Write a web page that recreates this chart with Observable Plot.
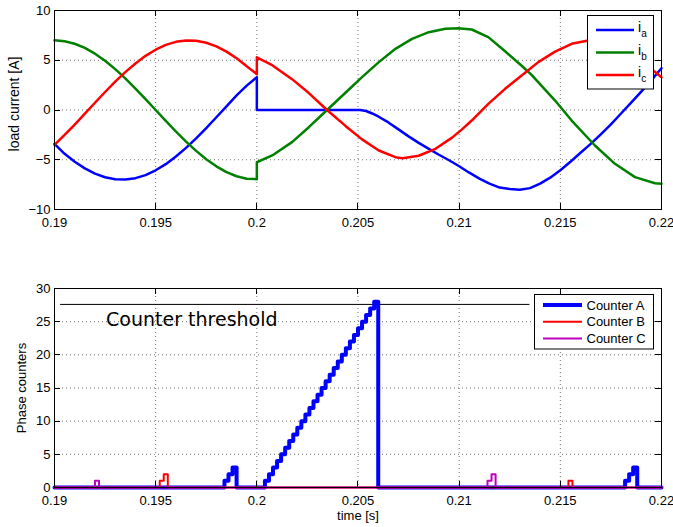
<!DOCTYPE html>
<html><head><meta charset="utf-8">
<script src="https://cdn.jsdelivr.net/npm/d3@7"></script>
<script src="https://cdn.jsdelivr.net/npm/@observablehq/plot@0.6"></script>
<style>
body{margin:0;background:#fff;}
#chart{width:673px;height:527px;position:relative;background:#fff;}
#chart svg{display:block;}
</style></head><body><div id="chart"></div>
<script>
// ---------- data ----------
const xTicks = [0.19, 0.195, 0.2, 0.205, 0.21, 0.215, 0.22];
const currentTicks = [-10, -5, 0, 5, 10];
const counterTicks = [0, 5, 10, 15, 20, 25, 30];

const currentNames = ["a", "b", "c"];
const counterNames = ["Counter A", "Counter B", "Counter C"];

// phase a current
const tA = [0.19,0.1905,0.191,0.1915,0.192,0.1925,0.193,0.1935,0.194,0.1945,0.195,0.1955,0.196,0.1965,0.197,0.1975,0.198,0.1985,0.199,0.1995,0.2,
  0.2,0.2051,0.2054,0.2057,
  0.206,0.2065,0.207,0.2075,0.208,0.2085,0.209,0.2095,0.21,0.2105,0.211,0.2115,0.212,0.2125,0.213,0.2135,0.214,0.2145,0.215,0.2155,0.216,0.2165,0.217,0.2175,0.218,0.2185,0.219,0.2195,0.22];
const iA = [-3.4,-4.4,-5.2,-5.87,-6.39,-6.76,-6.96,-6.99,-6.85,-6.54,-6.06,-5.44,-4.68,-3.81,-2.85,-1.81,-0.73,0.37,1.46,2.45,3.3,
  0,0,-0.1,-0.35,
  -0.65,-1.25,-1.95,-2.65,-3.3,-3.9,-4.5,-5.05,-5.65,-6.3,-6.9,-7.4,-7.8,-7.95,-8.02,-7.85,-7.4,-6.8,-6.05,-5.2,-4.3,-3.4,-2.45,-1.45,-0.35,0.75,1.85,3.0,4.2];

// phase b current
const tB = [0.19,0.1905,0.191,0.1915,0.192,0.1925,0.193,0.1935,0.194,0.1945,0.195,0.1955,0.196,0.1965,0.197,0.1975,0.198,0.1985,0.199,0.1995,0.2,
  0.2,0.20076,0.20174,0.20257,0.20347,0.20438,0.2052,0.20603,0.20685,0.20767,0.2085,0.20932,0.20996,0.21062,0.21144,0.21227,0.21309,0.21359,0.21474,0.21556,0.21671,0.2177,0.21869,0.21968,0.22];
const iB = [7,6.91,6.66,6.24,5.66,4.95,4.11,3.18,2.16,1.1,0,-1.1,-2.16,-3.18,-4.11,-4.95,-5.66,-6.24,-6.66,-6.91,-6.95,
  -5.25,-4.57,-3.23,-1.73,0,1.73,3.3,4.81,6.15,7.15,7.82,8.16,8.22,8.09,7.32,5.9,4.45,3.5,0.95,-1.06,-3.57,-5.41,-6.75,-7.36,-7.42];

// phase c current
const tC = [0.19,0.1905,0.191,0.1915,0.192,0.1925,0.193,0.1935,0.194,0.1945,0.195,0.1955,0.196,0.1965,0.197,0.1975,0.198,0.1985,0.199,0.1995,0.2,
  0.2,0.20076,0.20174,0.20257,0.20347,0.20438,0.2052,0.20603,0.20685,0.2072,0.208,0.20883,0.20965,0.21014,0.21062,0.21144,0.21227,0.21309,0.21391,0.21474,0.21556,0.21638,0.2168,0.2173,0.2178,0.2183,0.2188,0.2193,0.2197,0.22];
const iC = [-3.5,-2.51,-1.46,-0.37,0.73,1.81,2.85,3.81,4.68,5.44,6.06,6.54,6.85,6.99,6.96,6.76,6.39,5.87,5.2,4.4,3.6,
  5.3,4.5,3.1,1.7,0,-1.6,-2.95,-4.07,-4.74,-4.84,-4.6,-3.9,-2.78,-1.95,-1.06,0.62,2.13,3.47,4.81,5.87,6.65,6.98,7.0,6.85,6.5,5.95,5.2,4.4,3.8,3.3];

// phase counters (value holds from each time until the next)
const cAt = [0.19,0.1984,0.1986,0.1988,0.199,
  0.2004,0.2006,0.2008,0.201,0.2012,0.2014,0.2016,0.2018,0.202,0.2022,0.2024,0.2026,0.2028,0.203,0.2032,0.2034,0.2036,0.2038,0.204,0.2042,0.2044,0.2046,0.2048,0.205,0.2052,0.2054,0.2056,0.2058,
  0.206,0.2182,0.2184,0.2186,0.2188,0.22];
const cAv = [0,1,2,3,0,
  1,2,3,4,5,6,7,8,9,10,11,12,13,14,15,16,17,18,19,20,21,22,23,24,25,26,27,28,
  0,1,2,3,0,0];
const cBt = [0.19,0.1952,0.1954,0.1956,0.2154,0.2156,0.22];
const cBv = [0,1,2,0,1,0,0];
const cCt = [0.19,0.192,0.1922,0.2114,0.2116,0.2118,0.22];
const cCv = [0,1,0,1,2,0,0];

const thresholdValue = [27.6];
const thresholdSpan = [0.1903, 0.2135];
const thresholdLabel = ["Counter threshold"];
const thresholdLabelPos = [0.19255, 25.3];

// ---------- styles ----------
const font = "'Liberation Sans', Arial, Helvetica, sans-serif";
const colCur = ["#0000ff", "#008000", "#ff0000"];
const colCnt = ["#0000ff", "#ff0000", "#bf00bf"];
const wCnt = [4, 2, 2];
const gridStyle = {stroke: "#000", strokeOpacity: 0.55, strokeDasharray: "1,3", strokeWidth: 1};
const fmtX = d => String(d);
const fmtY = d => d < 0 ? "\u2212" + Math.abs(d) : String(d);

const rows = (ts, vs) => ts.map((t, i) => ({t, v: vs[i]}));

const style = {fontFamily: font, fontSize: "13px", color: "#000", background: "transparent", overflow: "visible"};

// ---------- top chart ----------
const topChart = Plot.plot({
  width: 673, height: 260, marginLeft: 54, marginRight: 12, marginTop: 10, marginBottom: 51,
  style,
  x: {domain: [0.19, 0.22]},
  y: {domain: [-10, 10]},
  marks: [
    Plot.gridX(xTicks.slice(1, -1), gridStyle),
    Plot.gridY(currentTicks.slice(1, -1), gridStyle),
    Plot.line(rows(tA, iA), {x: "t", y: "v", stroke: colCur[0], strokeWidth: 2.5}),
    Plot.line(rows(tB, iB), {x: "t", y: "v", stroke: colCur[1], strokeWidth: 2.5}),
    Plot.line(rows(tC, iC), {x: "t", y: "v", stroke: colCur[2], strokeWidth: 2.5}),
    Plot.frame({stroke: "#000"}),
    Plot.axisX(xTicks, {tickSize: 0, tickPadding: 8, tickFormat: fmtX, label: null}),
    Plot.axisY(currentTicks, {tickSize: 0, tickPadding: 4, tickFormat: fmtY, label: null}),
    Plot.text(["load current [A]"], {frameAnchor: "left", textAnchor: "middle", lineAnchor: "middle", dx: -40, dy: -6, rotate: -90, text: d => d, fontSize: 14})
  ]
});

// ---------- bottom chart ----------
const botChart = Plot.plot({
  width: 673, height: 267, marginLeft: 54, marginRight: 12, marginTop: 28, marginBottom: 40,
  style,
  x: {domain: [0.19, 0.22]},
  y: {domain: [0, 30]},
  marks: [
    Plot.gridX(xTicks.slice(1, -1), gridStyle),
    Plot.gridY(counterTicks.slice(1, -1), gridStyle),
    Plot.ruleY(thresholdValue, {y: d => d, x1: thresholdSpan[0], x2: thresholdSpan[1], stroke: "#000", strokeWidth: 1}),
    Plot.text(thresholdLabel, {x: thresholdLabelPos[0], y: thresholdLabelPos[1], text: d => d, textAnchor: "start", fontFamily: "'DejaVu Sans', sans-serif", fontSize: 19}),
    Plot.line(rows(cAt, cAv), {x: "t", y: "v", curve: "step-after", stroke: colCnt[0], strokeWidth: wCnt[0]}),
    Plot.line(rows(cBt, cBv), {x: "t", y: "v", curve: "step-after", stroke: colCnt[1], strokeWidth: wCnt[1]}),
    Plot.line(rows(cCt, cCv), {x: "t", y: "v", curve: "step-after", stroke: colCnt[2], strokeWidth: wCnt[2]}),
    Plot.frame({stroke: "#000"}),
    Plot.axisX(xTicks, {tickSize: 0, tickPadding: 8, tickFormat: fmtX, label: null}),
    Plot.axisY(counterTicks, {tickSize: 0, tickPadding: 4, tickFormat: fmtY, label: null}),
    Plot.text(["Phase counters"], {frameAnchor: "left", textAnchor: "middle", lineAnchor: "middle", dx: -33, rotate: -90, text: d => d}),
    Plot.text(["time [s]"], {frameAnchor: "bottom", textAnchor: "middle", lineAnchor: "middle", dy: 28, text: d => d})
  ]
});

// inward ticks on all four sides, positioned through each chart's scales
function inwardTicks(chart, xt, yt, len) {
  const sx = chart.scale("x"), sy = chart.scale("y");
  const [xl, xr] = sx.range;
  const [yb, yt0] = sy.range;
  const g = d3.select(chart).append("g").attr("stroke", "#000").attr("stroke-width", 1);
  for (const t of xt) {
    const x = Math.round(sx.apply(t)) + 0.5;
    g.append("line").attr("x1", x).attr("x2", x).attr("y1", yb).attr("y2", yb - len);
    g.append("line").attr("x1", x).attr("x2", x).attr("y1", yt0).attr("y2", yt0 + len);
  }
  for (const v of yt) {
    const y = Math.round(sy.apply(v)) + 0.5;
    g.append("line").attr("x1", xl).attr("x2", xl + len).attr("y1", y).attr("y2", y);
    g.append("line").attr("x1", xr).attr("x2", xr - len).attr("y1", y).attr("y2", y);
  }
}
inwardTicks(topChart, xTicks, currentTicks, 6);
inwardTicks(botChart, xTicks, counterTicks, 6);

// legend for the currents
{
  const g = d3.select(topChart).append("g").attr("font-family", font).attr("text-anchor", "start");
  g.append("rect").attr("x", 587.5).attr("y", 15.5).attr("width", 66).attr("height", 73.5)
    .attr("fill", "#fff").attr("stroke", "#000");
  currentNames.forEach((n, i) => {
    const y = 30 + i * 22.5;
    g.append("line").attr("x1", 596).attr("x2", 634).attr("y1", y).attr("y2", y)
      .attr("stroke", colCur[i]).attr("stroke-width", 2.5);
    const t = g.append("text").attr("x", 638).attr("y", y + 2).attr("font-size", 14)
      .attr("text-anchor", "start").attr("fill", "#000").text("i");
    t.append("tspan").attr("dy", 5).attr("font-size", 10).text(n);
  });
}
// legend for the counters
{
  const g = d3.select(botChart).append("g").attr("font-family", font).attr("text-anchor", "start");
  g.append("rect").attr("x", 534.5).attr("y", 34.5).attr("width", 119).attr("height", 54.5)
    .attr("fill", "#fff").attr("stroke", "#000");
  counterNames.forEach((n, i) => {
    const y = 45 + i * 16.7;
    g.append("line").attr("x1", 543).attr("x2", 582).attr("y1", y).attr("y2", y)
      .attr("stroke", colCnt[i]).attr("stroke-width", wCnt[i]);
    g.append("text").attr("x", 586.5).attr("y", y + 4.6).attr("font-size", 13)
      .attr("text-anchor", "start").attr("fill", "#000").text(n);
  });
}

const root = document.getElementById("chart");
root.appendChild(topChart);
root.appendChild(botChart);
</script></body></html>
